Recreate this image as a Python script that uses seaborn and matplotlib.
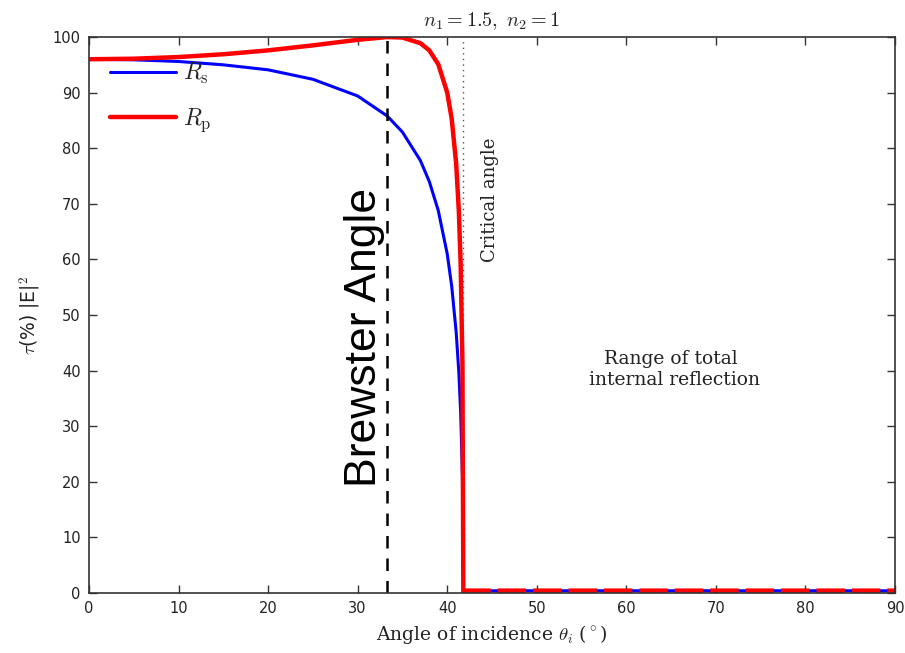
import matplotlib
matplotlib.use("Agg")
import matplotlib.pyplot as plt
import seaborn as sns
import pandas as pd

# Values (transmission in %)
angle = [0, 5, 10, 15, 20, 25, 30, 33.3, 35, 37, 38, 39, 40, 40.5, 41, 41.3, 41.5, 41.7, 41.8]
t_s = [96.0, 95.9, 95.6, 95.0, 94.1, 92.4, 89.4, 85.8, 82.9, 77.8, 74.0, 68.8, 61.0, 55.2, 46.9, 39.6, 32.5, 20.9, 0.0]
t_p = [96.0, 96.1, 96.4, 96.9, 97.6, 98.5, 99.5, 100.0, 99.9, 98.9, 97.6, 95.1, 90.0, 85.3, 77.2, 68.6, 59.2, 41.1, 0.0]
tir_angle = [41.8, 42.0, 90.0]
tir_s = [0.0, 0.4, 0.4]
tir_p = [0.0, 0.4, 0.4]

brewster = 33.3
critical = 41.8
x_ticks = [0, 10, 20, 30, 40, 50, 60, 70, 80, 90]
y_ticks = [0, 10, 20, 30, 40, 50, 60, 70, 80, 90, 100]

sns.set_theme(style="ticks")
plt.rcParams['font.family'] = ['DejaVu Sans']
plt.rcParams['mathtext.fontset'] = 'cm'

fig = plt.figure(figsize=(9.05, 6.53), dpi=100)
ax = fig.add_axes([0.0983, 0.0919, 0.8907, 0.8514])

df = pd.DataFrame({"angle": angle, "Rs": t_s, "Rp": t_p})
dft = pd.DataFrame({"angle": tir_angle, "Rs": tir_s, "Rp": tir_p})

sns.lineplot(data=df, x="angle", y="Rs", ax=ax, color="#0000ff", lw=2.2, label=r"$R_\mathrm{s}$")
sns.lineplot(data=df, x="angle", y="Rp", ax=ax, color="#ff0000", lw=3.2, label=r"$R_\mathrm{p}$")
sns.lineplot(data=dft, x="angle", y="Rs", ax=ax, color="#0000ff", lw=2.2, legend=False)
sns.lineplot(data=dft, x="angle", y="Rp", ax=ax, color="#ff0000", lw=3.4, legend=False)
ax.lines[-1].set_dashes([6, 1.5])

ax.axvline(brewster, color="black", ls=(0, (5, 4)), lw=1.8)
ax.axvline(critical, color="#555555", ls=(0, (1, 3)), lw=1.0)

ax.set_xlim(0, 90)
ax.set_ylim(0, 100)
ax.set_xticks(x_ticks)
ax.set_yticks(y_ticks)
ax.tick_params(direction="in", top=True, right=True, length=6, width=1, labelsize=10.5, colors="#333333", labelcolor="#222222", pad=6)
for s in ax.spines.values():
    s.set_color("#333333")
    s.set_linewidth(1.2)

ax.set_xlabel(r"Angle of incidence $\theta_i$ ($^\circ$)", family="DejaVu Serif", fontsize=13.5, color="#222222", labelpad=5)
ax.set_ylabel(r"$\tau$(%) |E|$^2$", fontsize=13.5, color="#222222", labelpad=8)
ax.set_title(r"$n_1 = 1.5,\ n_2 = 1$", fontsize=14.5, color="#222222", pad=8)

ax.text(30.8, 46.0, "Brewster Angle", rotation=90, fontsize=32, family="Liberation Sans",
        ha="center", va="center", color="black")
ax.text(44.8, 70.7, "Critical angle", rotation=90, fontsize=13, family="DejaVu Serif",
        ha="center", va="center", color="#222222")
ax.text(65.0, 40.2, "Range of total\n internal reflection", fontsize=13.5, family="DejaVu Serif",
        ha="center", va="center", color="#222222", linespacing=1.25)

leg = ax.legend(loc="upper left", bbox_to_anchor=(0.026, 0.957), frameon=False, fontsize=17,
                handlelength=2.8, labelspacing=0.85, borderaxespad=0, borderpad=0, handletextpad=0.3)

fig.savefig("out.png", dpi=100)
